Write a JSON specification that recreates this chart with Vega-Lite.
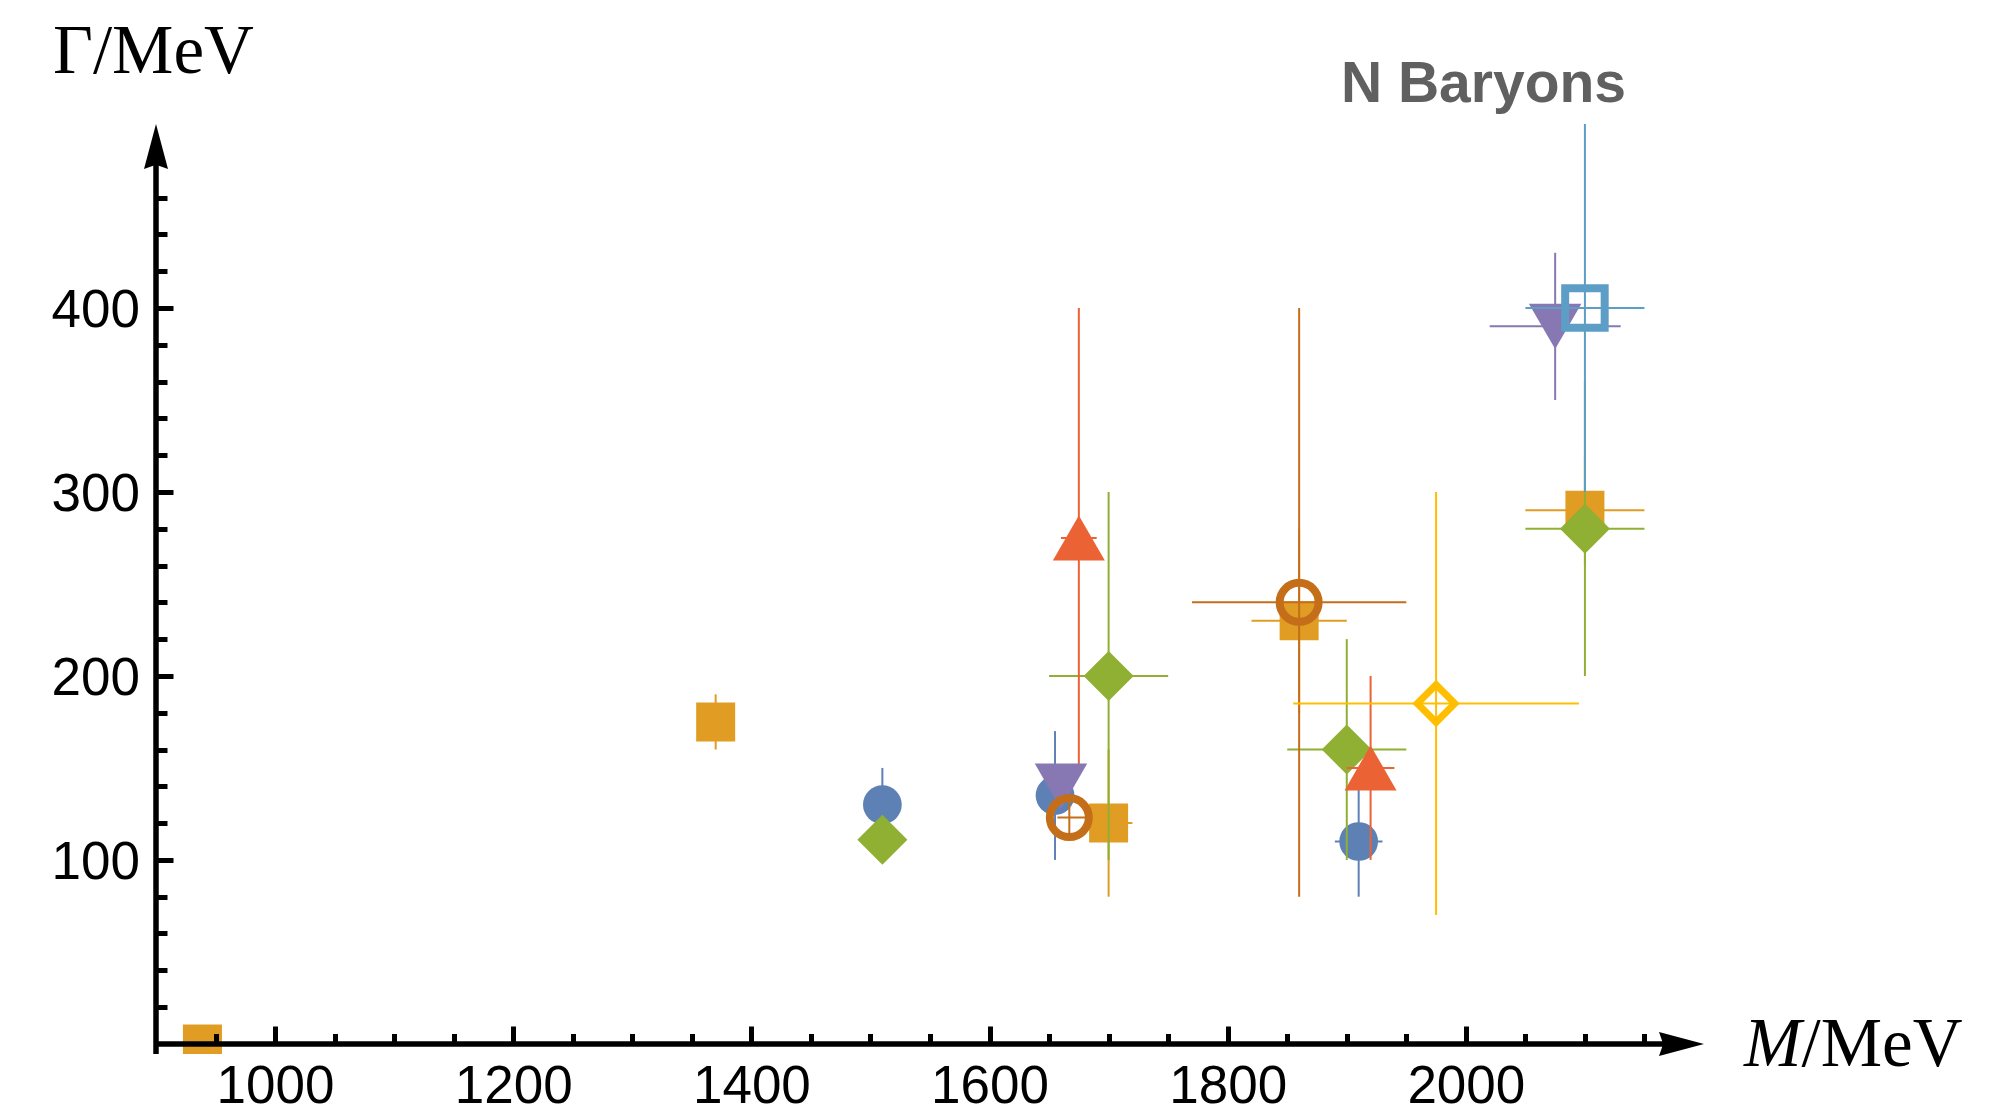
{
  "$schema": "https://vega.github.io/schema/vega-lite/v6.json",
  "width": 1548,
  "height": 930,
  "autosize": {"type": "none"},
  "padding": {"left": 156, "top": 124, "right": 304, "bottom": 59},
  "background": "white",
  "config": {"view": {"stroke": null}},
  "resolve": {"axis": {"x": "independent", "y": "independent"}},
  "datasets": {
    "pts": [
      {"s": 1, "M": 1510, "G": 130, "Mlo": 1510, "Mhi": 1510, "Glo": 110, "Ghi": 150},
      {"s": 1, "M": 1655, "G": 135, "Mlo": 1640, "Mhi": 1670, "Glo": 100, "Ghi": 170},
      {"s": 1, "M": 1910, "G": 110, "Mlo": 1890, "Mhi": 1930, "Glo": 80, "Ghi": 140},
      {"s": 2, "M": 939, "G": 0, "Mlo": 939, "Mhi": 939, "Glo": 0, "Ghi": 0},
      {"s": 2, "M": 1370, "G": 175, "Mlo": 1360, "Mhi": 1380, "Glo": 160, "Ghi": 190},
      {"s": 2, "M": 1700, "G": 120, "Mlo": 1680, "Mhi": 1720, "Glo": 80, "Ghi": 160},
      {"s": 2, "M": 1860, "G": 230, "Mlo": 1820, "Mhi": 1900, "Glo": 180, "Ghi": 280},
      {"s": 2, "M": 2100, "G": 290, "Mlo": 2050, "Mhi": 2150, "Glo": 260, "Ghi": 320},
      {"s": 3, "M": 1510, "G": 111, "Mlo": 1505, "Mhi": 1515, "Glo": 105, "Ghi": 120},
      {"s": 3, "M": 1700, "G": 200, "Mlo": 1650, "Mhi": 1750, "Glo": 100, "Ghi": 300},
      {"s": 3, "M": 1900, "G": 160, "Mlo": 1850, "Mhi": 1950, "Glo": 100, "Ghi": 220},
      {"s": 3, "M": 2100, "G": 280, "Mlo": 2050, "Mhi": 2150, "Glo": 200, "Ghi": 360},
      {"s": 4, "M": 1675, "G": 275, "Mlo": 1660, "Mhi": 1690, "Glo": 150, "Ghi": 400},
      {"s": 4, "M": 1920, "G": 150, "Mlo": 1900, "Mhi": 1940, "Glo": 100, "Ghi": 200},
      {"s": 5, "M": 1660, "G": 140, "Mlo": 1655, "Mhi": 1665, "Glo": 130, "Ghi": 150},
      {"s": 5, "M": 2075, "G": 390, "Mlo": 2020, "Mhi": 2130, "Glo": 350, "Ghi": 430},
      {"s": 6, "M": 1667, "G": 123, "Mlo": 1657, "Mhi": 1685, "Glo": 113, "Ghi": 133},
      {"s": 6, "M": 1860, "G": 240, "Mlo": 1770, "Mhi": 1950, "Glo": 80, "Ghi": 400},
      {"s": 7, "M": 2100, "G": 400, "Mlo": 2050, "Mhi": 2150, "Glo": 300, "Ghi": 500},
      {"s": 8, "M": 1975, "G": 185, "Mlo": 1855, "Mhi": 2095, "Glo": 70, "Ghi": 300}
    ]
  },
  "data": {"name": "pts"},
  "layer": [
    {
      "transform": [{"filter": "datum.s === 1"}],
      "layer": [
        {"mark": {"type": "rule", "color": "#5E81B5", "strokeWidth": 2, "clip": true},
         "encoding": {
           "x": {"field": "M", "type": "quantitative", "scale": {"domain": [900, 2200], "nice": false, "zero": false}, "axis": null},
           "y": {"field": "Glo", "type": "quantitative", "scale": {"domain": [-5.5, 500], "nice": false, "zero": false}, "axis": null},
           "y2": {"field": "Ghi"}
         }},
        {"mark": {"type": "rule", "color": "#5E81B5", "strokeWidth": 2, "clip": true},
         "encoding": {"x": {"field": "Mlo", "type": "quantitative", "axis": null}, "x2": {"field": "Mhi"}, "y": {"field": "G", "type": "quantitative", "axis": null}}},
        {"mark": {"type": "point", "shape": "circle", "filled": true, "color": "#5E81B5", "size": 1500, "opacity": 1, "strokeWidth": 0, "clip": true},
         "encoding": {"x": {"field": "M", "type": "quantitative", "axis": null}, "y": {"field": "G", "type": "quantitative", "axis": null}}}
      ]
    },
    {
      "transform": [{"filter": "datum.s === 2"}],
      "layer": [
        {"mark": {"type": "rule", "color": "#E19C24", "strokeWidth": 2, "clip": true},
         "encoding": {"x": {"field": "M", "type": "quantitative", "axis": null}, "y": {"field": "Glo", "type": "quantitative", "axis": null}, "y2": {"field": "Ghi"}}},
        {"mark": {"type": "rule", "color": "#E19C24", "strokeWidth": 2, "clip": true},
         "encoding": {"x": {"field": "Mlo", "type": "quantitative", "axis": null}, "x2": {"field": "Mhi"}, "y": {"field": "G", "type": "quantitative", "axis": null}}},
        {"mark": {"type": "point", "shape": "square", "filled": true, "color": "#E19C24", "size": 1521, "opacity": 1, "strokeWidth": 0, "clip": true},
         "encoding": {"x": {"field": "M", "type": "quantitative", "axis": null}, "y": {"field": "G", "type": "quantitative", "axis": null}}}
      ]
    },
    {
      "transform": [{"filter": "datum.s === 3"}],
      "layer": [
        {"mark": {"type": "rule", "color": "#8FB032", "strokeWidth": 2, "clip": true},
         "encoding": {"x": {"field": "M", "type": "quantitative", "axis": null}, "y": {"field": "Glo", "type": "quantitative", "axis": null}, "y2": {"field": "Ghi"}}},
        {"mark": {"type": "rule", "color": "#8FB032", "strokeWidth": 2, "clip": true},
         "encoding": {"x": {"field": "Mlo", "type": "quantitative", "axis": null}, "x2": {"field": "Mhi"}, "y": {"field": "G", "type": "quantitative", "axis": null}}},
        {"mark": {"type": "point", "shape": "diamond", "filled": true, "color": "#8FB032", "size": 2500, "opacity": 1, "strokeWidth": 0, "clip": true},
         "encoding": {"x": {"field": "M", "type": "quantitative", "axis": null}, "y": {"field": "G", "type": "quantitative", "axis": null}}}
      ]
    },
    {
      "transform": [{"filter": "datum.s === 4"}],
      "layer": [
        {"mark": {"type": "rule", "color": "#EB6235", "strokeWidth": 2, "clip": true},
         "encoding": {"x": {"field": "M", "type": "quantitative", "axis": null}, "y": {"field": "Glo", "type": "quantitative", "axis": null}, "y2": {"field": "Ghi"}}},
        {"mark": {"type": "rule", "color": "#EB6235", "strokeWidth": 2, "clip": true},
         "encoding": {"x": {"field": "Mlo", "type": "quantitative", "axis": null}, "x2": {"field": "Mhi"}, "y": {"field": "G", "type": "quantitative", "axis": null}}},
        {"mark": {"type": "point", "shape": "triangle-up", "filled": true, "color": "#EB6235", "size": 2704, "opacity": 1, "strokeWidth": 0, "clip": true},
         "encoding": {"x": {"field": "M", "type": "quantitative", "axis": null}, "y": {"field": "G", "type": "quantitative", "axis": null}}}
      ]
    },
    {
      "transform": [{"filter": "datum.s === 5"}],
      "layer": [
        {"mark": {"type": "rule", "color": "#8778B3", "strokeWidth": 2, "clip": true},
         "encoding": {"x": {"field": "M", "type": "quantitative", "axis": null}, "y": {"field": "Glo", "type": "quantitative", "axis": null}, "y2": {"field": "Ghi"}}},
        {"mark": {"type": "rule", "color": "#8778B3", "strokeWidth": 2, "clip": true},
         "encoding": {"x": {"field": "Mlo", "type": "quantitative", "axis": null}, "x2": {"field": "Mhi"}, "y": {"field": "G", "type": "quantitative", "axis": null}}},
        {"mark": {"type": "point", "shape": "triangle-down", "filled": true, "color": "#8778B3", "size": 2756, "opacity": 1, "strokeWidth": 0, "clip": true},
         "encoding": {"x": {"field": "M", "type": "quantitative", "axis": null}, "y": {"field": "G", "type": "quantitative", "axis": null}}}
      ]
    },
    {
      "transform": [{"filter": "datum.s === 6"}],
      "layer": [
        {"mark": {"type": "rule", "color": "#C56E1A", "strokeWidth": 2, "clip": true},
         "encoding": {"x": {"field": "M", "type": "quantitative", "axis": null}, "y": {"field": "Glo", "type": "quantitative", "axis": null}, "y2": {"field": "Ghi"}}},
        {"mark": {"type": "rule", "color": "#C56E1A", "strokeWidth": 2, "clip": true},
         "encoding": {"x": {"field": "Mlo", "type": "quantitative", "axis": null}, "x2": {"field": "Mhi"}, "y": {"field": "G", "type": "quantitative", "axis": null}}},
        {"mark": {"type": "point", "shape": "circle", "filled": false, "color": "#C56E1A", "size": 1520, "opacity": 1, "strokeWidth": 8, "clip": true},
         "encoding": {"x": {"field": "M", "type": "quantitative", "axis": null}, "y": {"field": "G", "type": "quantitative", "axis": null}}}
      ]
    },
    {
      "transform": [{"filter": "datum.s === 7"}],
      "layer": [
        {"mark": {"type": "rule", "color": "#5D9EC7", "strokeWidth": 2, "clip": true},
         "encoding": {"x": {"field": "M", "type": "quantitative", "axis": null}, "y": {"field": "Glo", "type": "quantitative", "axis": null}, "y2": {"field": "Ghi"}}},
        {"mark": {"type": "rule", "color": "#5D9EC7", "strokeWidth": 2, "clip": true},
         "encoding": {"x": {"field": "Mlo", "type": "quantitative", "axis": null}, "x2": {"field": "Mhi"}, "y": {"field": "G", "type": "quantitative", "axis": null}}},
        {"mark": {"type": "point", "shape": "square", "filled": false, "color": "#5D9EC7", "size": 1560, "opacity": 1, "strokeWidth": 8, "clip": true},
         "encoding": {"x": {"field": "M", "type": "quantitative", "axis": null}, "y": {"field": "G", "type": "quantitative", "axis": null}}}
      ]
    },
    {
      "transform": [{"filter": "datum.s === 8"}],
      "layer": [
        {"mark": {"type": "rule", "color": "#FFBF00", "strokeWidth": 2, "clip": true},
         "encoding": {"x": {"field": "M", "type": "quantitative", "axis": null}, "y": {"field": "Glo", "type": "quantitative", "axis": null}, "y2": {"field": "Ghi"}}},
        {"mark": {"type": "rule", "color": "#FFBF00", "strokeWidth": 2, "clip": true},
         "encoding": {"x": {"field": "Mlo", "type": "quantitative", "axis": null}, "x2": {"field": "Mhi"}, "y": {"field": "G", "type": "quantitative", "axis": null}}},
        {"mark": {"type": "point", "shape": "diamond", "filled": false, "color": "#FFBF00", "size": 1406, "opacity": 1, "strokeWidth": 7, "clip": true},
         "encoding": {"x": {"field": "M", "type": "quantitative", "axis": null}, "y": {"field": "G", "type": "quantitative", "axis": null}}}
      ]
    },
    {
      "data": {"values": [{}]},
      "mark": {"type": "rule", "color": "black", "strokeWidth": 5.5},
      "encoding": {
        "x": {"datum": 900, "type": "quantitative", "scale": {"domain": [900, 2200], "nice": false, "zero": false},
              "axis": {"orient": "bottom", "values": [1000, 1200, 1400, 1600, 1800, 2000], "tickSize": -18, "tickWidth": 5, "tickColor": "black",
                       "format": "d", "labelFont": "Liberation Sans", "labelFontSize": 53, "labelColor": "black",
                       "labelPadding": 34.4, "labelFlush": false, "labelOverlap": false, "labelBound": false,
                       "domain": false, "grid": false, "title": null, "offset": -10, "zindex": 1}},
        "x2": {"datum": 2190},
        "y": {"datum": 0, "type": "quantitative", "scale": {"domain": [-5.5, 500], "nice": false, "zero": false},
              "axis": {"orient": "left", "values": [100, 200, 300, 400], "tickSize": -17, "tickWidth": 5, "tickColor": "black",
                       "format": "d", "labelFont": "Liberation Sans", "labelFontSize": 53, "labelColor": "black",
                       "labelPadding": 33.5, "labelOffset": 3, "labelFlush": false, "labelOverlap": false, "labelBound": false,
                       "domain": false, "grid": false, "title": null, "zindex": 1}}
      }
    },
    {
      "data": {"values": [{}]},
      "mark": {"type": "rule", "color": "black", "strokeWidth": 5.5},
      "encoding": {
        "x": {"datum": 900, "type": "quantitative", "scale": {"domain": [900, 2200], "nice": false, "zero": false},
              "axis": {"orient": "bottom", "values": [950,1050,1100,1150,1250,1300,1350,1450,1500,1550,1650,1700,1750,1850,1900,1950,2050,2100,2150],
                       "tickSize": -10.5, "tickWidth": 5, "tickColor": "black", "labels": false,
                       "domain": false, "grid": false, "title": null, "offset": -10, "zindex": 1}},
        "y": {"datum": -5.5, "type": "quantitative", "scale": {"domain": [-5.5, 500], "nice": false, "zero": false},
              "axis": {"orient": "left", "values": [20,40,60,80,120,140,160,180,220,240,260,280,320,340,360,380,420,440,460],
                       "tickSize": -11, "tickWidth": 5, "tickColor": "black", "labels": false,
                       "domain": false, "grid": false, "title": null, "zindex": 1}},
        "y2": {"datum": 485}
      }
    },
    {
      "data": {"values": [{}]},
      "mark": {"type": "point", "shape": "M0,0L-1.875,-0.5L-1.7,0L-1.875,0.5Z", "filled": true, "color": "black", "size": 2304, "opacity": 1, "strokeWidth": 0},
      "encoding": {"x": {"datum": 2200, "type": "quantitative", "axis": null}, "y": {"datum": 0, "type": "quantitative", "axis": null}}
    },
    {
      "data": {"values": [{}]},
      "mark": {"type": "point", "shape": "M0,0L0.5,1.875L0,1.7L-0.5,1.875Z", "filled": true, "color": "black", "size": 2304, "opacity": 1, "strokeWidth": 0},
      "encoding": {"x": {"datum": 900, "type": "quantitative", "axis": null}, "y": {"datum": 500, "type": "quantitative", "axis": null}}
    },
    {
      "data": {"values": [{"t": "Γ/MeV"}]},
      "mark": {"type": "text", "font": "Liberation Serif", "fontSize": 69, "align": "left", "baseline": "alphabetic", "color": "black"},
      "encoding": {"text": {"field": "t"}, "x": {"datum": 813.5, "type": "quantitative", "axis": null}, "y": {"datum": 527.7, "type": "quantitative", "axis": null}}
    },
    {
      "data": {"values": [{"t": "M"}]},
      "mark": {"type": "text", "font": "Liberation Serif", "fontSize": 69, "fontStyle": "italic", "align": "left", "baseline": "alphabetic", "color": "black"},
      "encoding": {"text": {"field": "t"}, "x": {"datum": 2233.6, "type": "quantitative", "axis": null}, "y": {"datum": -11.8, "type": "quantitative", "axis": null}}
    },
    {
      "data": {"values": [{"t": "/MeV"}]},
      "mark": {"type": "text", "font": "Liberation Serif", "fontSize": 69, "align": "left", "baseline": "alphabetic", "color": "black"},
      "encoding": {"text": {"field": "t"}, "x": {"datum": 2281.9, "type": "quantitative", "axis": null}, "y": {"datum": -11.8, "type": "quantitative", "axis": null}}
    },
    {
      "data": {"values": [{"t": "N Baryons"}]},
      "mark": {"type": "text", "font": "Liberation Sans", "fontSize": 57, "fontWeight": "bold", "align": "left", "baseline": "alphabetic", "color": "#606060"},
      "encoding": {"text": {"field": "t"}, "x": {"datum": 1895.1, "type": "quantitative", "axis": null}, "y": {"datum": 511.7, "type": "quantitative", "axis": null}}
    }
  ]
}
